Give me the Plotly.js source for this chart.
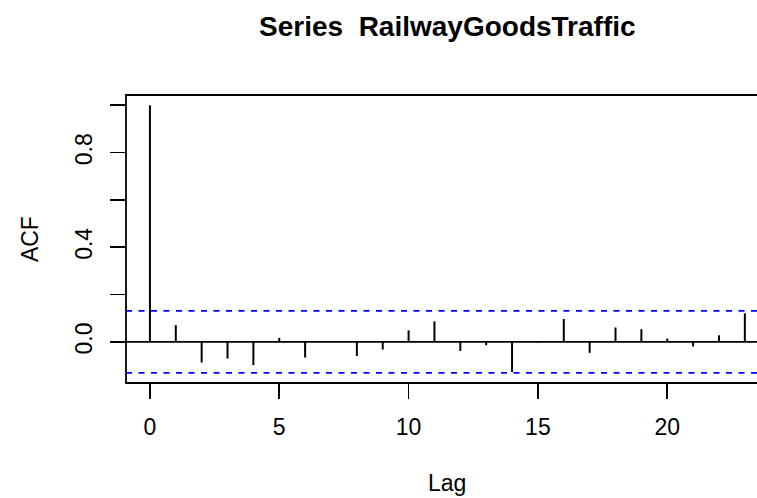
<!DOCTYPE html>
<html>
<head>
<meta charset="utf-8">
<script src="https://cdn.plot.ly/plotly-3.0.1.min.js"></script>
<style>html,body{margin:0;padding:0;background:#fff;}#chart{width:757px;height:498px;}</style>
</head>
<body>
<div id="chart"></div>
<script>
// Data
const lags = [0,1,2,3,4,5,6,7,8,9,10,11,12,13,14,15,16,17,18,19,20,21,22,23];
const acfValues = [1.000, 0.071, -0.087, -0.070, -0.098, 0.017, -0.066, 0.004, -0.059, -0.032,
                   0.049, 0.087, -0.038, -0.014, -0.127, -0.004, 0.097, -0.046, 0.061, 0.054,
                   0.014, -0.019, 0.028, 0.121];
const confLimit = 0.131;
const xTickVals = [0,5,10,15,20];
const xTickText = ['0','5','10','15','20'];
const yTickVals = [0,0.2,0.4,0.6,0.8,1.0];
const yTickText = ['0.0','','0.4','','0.8',''];
const titleText = 'Series  RailwayGoodsTraffic';
const xLabel = 'Lag';
const yLabel = 'ACF';

const FONT = 'Liberation Sans, Arial, Helvetica, sans-serif';

// build vertical spikes
const sx = [], sy = [];
lags.forEach((l, i) => { sx.push(l, l, null); sy.push(0, acfValues[i], null); });

const traces = [{
  type: 'scatter', mode: 'lines', x: sx, y: sy,
  line: {color: '#000', width: 2}, hoverinfo: 'skip', showlegend: false
}];

const layout = {
  width: 757, height: 498,
  margin: {l: 126.3, r: 0, t: 94.7, b: 115.3, pad: 0},
  paper_bgcolor: '#fff', plot_bgcolor: '#fff',
  font: {family: FONT, color: '#000', size: 23},
  showlegend: false,
  xaxis: {
    range: [-0.925, 23.47], showgrid: false, zeroline: false, showline: false,
    tickmode: 'array', tickvals: xTickVals, ticktext: xTickText,
    ticks: 'outside', ticklen: 15, tickwidth: 1.7, tickcolor: '#000',
    tickfont: {family: FONT, size: 23, color: '#000'}, ticklabelstandoff: 8
  },
  yaxis: {
    range: [-0.1735, 1.0435], showgrid: false, zeroline: false, showline: false,
    tickmode: 'array', tickvals: yTickVals, ticktext: yTickText, tickangle: -90,
    ticks: 'outside', ticklen: 15, tickwidth: 1.7, tickcolor: '#000',
    tickfont: {family: FONT, size: 23, color: '#000'}, ticklabelstandoff: 9
  },
  shapes: [
    {type: 'rect', xref: 'paper', yref: 'paper', x0: 0, x1: 1.03, y0: 0, y1: 1,
     line: {color: '#000', width: 1.8}, fillcolor: 'rgba(0,0,0,0)', layer: 'above'},
    {type: 'line', xref: 'paper', yref: 'y', x0: 0, x1: 1, y0: 0, y1: 0,
     line: {color: '#000', width: 1.8}},
    {type: 'line', xref: 'paper', yref: 'y', x0: 0, x1: 1, y0: confLimit, y1: confLimit,
     line: {color: '#0000ff', width: 1.8, dash: '6px,6.5px'}},
    {type: 'line', xref: 'paper', yref: 'y', x0: 0, x1: 1, y0: -confLimit, y1: -confLimit,
     line: {color: '#0000ff', width: 1.8, dash: '6px,6.5px'}}
  ],
  annotations: [
    {text: '<b>' + titleText + '</b>', xref: 'paper', yref: 'paper', x: 0.509, y: 1.2385,
     xanchor: 'center', yanchor: 'middle', showarrow: false,
     font: {family: FONT, size: 28, color: '#000'}},
    {text: xLabel, xref: 'paper', yref: 'paper', x: 0.509, y: -0.346,
     xanchor: 'center', yanchor: 'middle', showarrow: false,
     font: {family: FONT, size: 23, color: '#000'}},
    {text: yLabel, xref: 'paper', yref: 'paper', x: -0.152, y: 0.5, textangle: -90,
     xanchor: 'center', yanchor: 'middle', showarrow: false,
     font: {family: FONT, size: 23, color: '#000'}}
  ]
};

Plotly.newPlot('chart', traces, layout, {staticPlot: true, displayModeBar: false});
</script>
</body>
</html>
